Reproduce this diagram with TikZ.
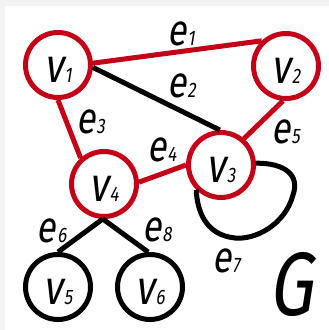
\documentclass[tikz,border=0pt]{standalone}
\usepackage{fontspec}
\setmainfont{Fira Sans}
\newfontfamily\labfont[FakeSlant=0.2]{Fira Sans}
\usepackage{graphicx}
\definecolor{gred}{RGB}{196,0,24}
\definecolor{bgray}{RGB}{243,243,243}
\newcommand\lab[3]{\scalebox{0.8}[1]{\labfont\fontsize{#1}{#1}\selectfont #2\kern1.5pt\fontsize{21}{21}\selectfont #3}}
\begin{document}
\begin{tikzpicture}[x=1pt,y=-1pt,
  vert/.style={circle,draw=#1,line width=5pt,minimum size=65pt,inner sep=0pt},
  redge/.style={draw=gred,line width=5pt},
  bedge/.style={draw=black,line width=5pt},
  elab/.style={anchor=base west,inner sep=0pt,outer sep=0pt},
  vlab/.style={anchor=base,inner sep=0pt,outer sep=0pt}]
\fill[bgray] (0,0) rectangle (329,330);
\fill[white] (5,6) rectangle (329,330);
\useasboundingbox (0,0) rectangle (329,330);
% vertices
\node[vert=gred] (v1) at (58,65) {};
\node[vert=gred] (v2) at (286,66) {};
\node[vert=gred] (v3) at (221,165) {};
\node[vert=gred] (v4) at (104,184) {};
\node[vert=black] (v5) at (58,287) {};
\node[vert=black] (v6) at (150,287) {};
% edges
\draw[redge] (v1.3) -- (v2.134);
\draw[bedge] (v1.-4) -- (v3.92);
\draw[redge] (v1.-90) -- (v4.132);
\draw[redge] (v4.3) -- (v3.180);
\draw[redge] (v2.265) -- (v3.49);
\draw[bedge] (v4.268) -- (v5.90);
\draw[bedge] (v4.268) -- (v6.93);
\draw[bedge] (v3.3) .. controls (285,163) and (300,175) .. (293,195)
  .. controls (285,225) and (255,240) .. (235,238)
  .. controls (205,235) and (197,210) .. (v3.225);
% vertex labels
\node[vlab] (l1) at (58,82) {\lab{48}{v}{1}};
\node[vlab] (l2) at (286,83) {\lab{48}{v}{2}};
\node[vlab] (l3) at (221,182) {\lab{48}{v}{3}};
\node[vlab] (l4) at (104,201) {\lab{48}{v}{4}};
\node[vlab] (l5) at (58,304) {\lab{48}{v}{5}};
\node[vlab] (l6) at (150,304) {\lab{48}{v}{6}};
% edge labels
\node[elab] (e1) at (167,45) {\lab{44}{e}{1}};
\node[elab] (e2) at (167,97) {\lab{44}{e}{2}};
\node[elab] (e3) at (76,133) {\lab{44}{e}{3}};
\node[elab] (e4) at (147,161) {\lab{44}{e}{4}};
\node[elab] (e5) at (271,143) {\lab{44}{e}{5}};
\node[elab] (e6) at (37,242) {\lab{44}{e}{6}};
\node[elab] (e7) at (212,272) {\lab{44}{e}{7}};
\node[elab] (e8) at (142,241) {\lab{44}{e}{8}};
\node[elab] (G) at (268,315) {\scalebox{0.78}[1]{\labfont\fontsize{90}{90}\selectfont G}};
\end{tikzpicture}
\end{document}
